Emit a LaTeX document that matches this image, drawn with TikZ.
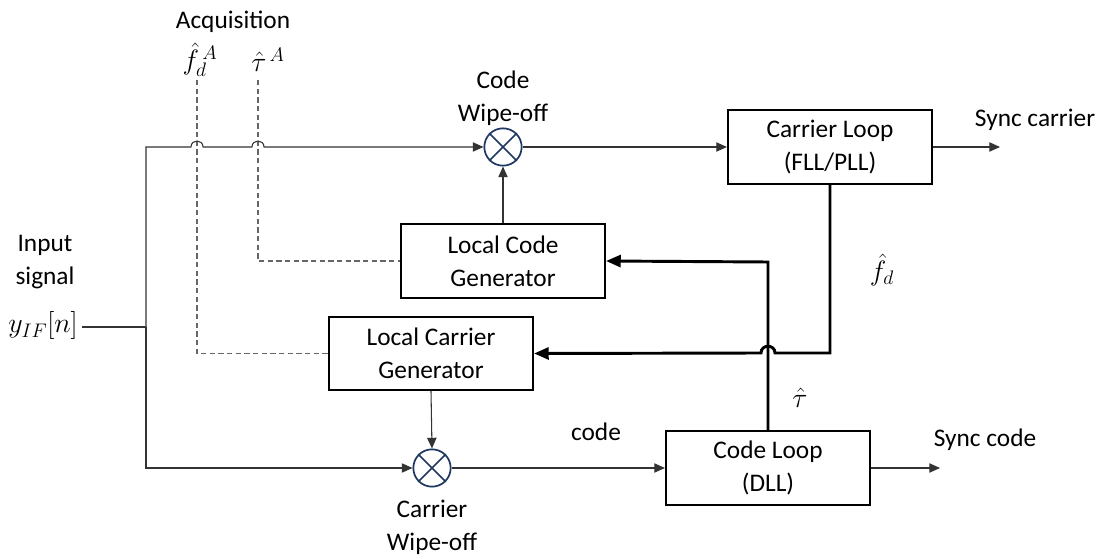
\RequirePackage{fix-cm}
\documentclass[tikz,border=0pt]{standalone}
\usepackage{fontspec}
\setmainfont{Carlito}
\usetikzlibrary{arrows.meta,calc}
\definecolor{navy}{HTML}{203864}
\begin{document}
\begin{tikzpicture}[x=0.75pt,y=-0.75pt,
  every node/.style={font=\fontsize{19}{25}\selectfont},
  box/.style={draw=black, line width=1.6pt, minimum width=153pt, minimum height=55pt, align=center, inner sep=0pt},
  mult/.style={circle, draw=navy, line width=1.3pt, minimum size=28pt, inner sep=0pt},
  sig/.style={draw=black!80, line width=0.8pt},
  sigarrow/.style={sig, -{Triangle[length=8pt,width=7pt]}},
  fb/.style={draw=black, line width=2.2pt, -{Triangle[length=11pt,width=9pt]}},
  acq/.style={draw=black!60, line width=0.8pt, dash pattern=on 4pt off 2.5pt},
  lbl/.style={align=center, inner sep=0pt},
  mlbl/.style={inner sep=0pt, font=\fontsize{21}{25}\selectfont}]
\useasboundingbox (0,0) rectangle (1099,559);

% blocks
\node[box] (cl) at (830,147) {Carrier Loop\\(FLL/PLL)};
\node[box] (lcg) at (503,261) {Local Code\\Generator};
\node[box] (lcar) at (431,353.5) {Local Carrier\\Generator};
\node[box] (dll) at (768,468) {Code Loop\\(DLL)};

% multipliers
\node[mult] (cw) at (503,147) {};
\node[mult] (carw) at (432,468) {};
\foreach \m in {cw,carw}{
  \draw[navy, line width=1.3pt] (\m.45) -- (\m.225);
  \draw[navy, line width=1.3pt] (\m.135) -- (\m.315);
}

% labels
\node[lbl] (acq) at (233,22) {Acquisition};
\node[mlbl] (fdA) at (200,60) {$\hat{f}_d^{\,A}$};
\node[mlbl] (tauA) at (268,60) {$\hat{\tau}^{\,A}$};
\node[lbl] (cwl) at (503,98) {Code\\Wipe-off};
\node[lbl] (carwl) at (432,527) {Carrier\\Wipe-off};
\node[lbl] (inl) at (45,262) {Input\\signal};
\node[mlbl] (yin) at (43,326) {$y_{IF}[n]$};
\node[mlbl] (fdl) at (882,270) {$\hat{f}_d$};
\node[mlbl] (taul) at (800,398) {$\hat{\tau}$};
\node[lbl] (codel) at (596,432) {code};
\node[lbl] (scar) at (1035,120) {Sync carrier};
\node[lbl] (scode) at (985,440) {Sync code};

% coordinates
\coordinate (split) at (146,327);
\coordinate (tl) at (146,147);
\coordinate (h1) at (197,147);
\coordinate (h2) at (258,147);
\coordinate (fdtop) at (197,80);
\coordinate (tautop) at (258,80);
\coordinate (fdcorner) at (830,353);
\coordinate (h3) at (768,353);
\coordinate (taucorner) at (768,262);
\coordinate (scarend) at (1000,147);
\coordinate (scodeend) at (940,468);

% acquisition dashed lines
\draw[acq] (fdtop) |- (lcar.west);
\draw[acq] (tautop) |- (lcg.west);

% input signal
\draw[sig] ($(yin.east)+(4,1)$) -- (split);
\draw[sigarrow] (split) -- (tl) -- ($(h1)+(-6,0)$)
  .. controls +(0,-8) and +(0,-8) .. ($(h1)+(6,0)$)
  -- ($(h2)+(-6,0)$)
  .. controls +(0,-8) and +(0,-8) .. ($(h2)+(6,0)$)
  -- (cw.west);
\draw[sigarrow] (split) |- (carw.west);

% forward path
\draw[sigarrow] (cw.east) -- (cl.west);
\draw[sigarrow] (lcg.north) -- (cw.south);
\draw[sigarrow] (lcar.south) -- (carw.north);
\draw[sigarrow] (carw.east) -- (dll.west);
\draw[sigarrow] (cl.east) -- (scarend);
\draw[sigarrow] (dll.east) -- (scodeend);

% feedback
\draw[fb] (dll.north) -- (taucorner) -- (lcg.east);
\draw[fb] (cl.south) -- (fdcorner) -- ($(h3)+(7,0)$)
  .. controls +(0,-9) and +(0,-9) .. ($(h3)+(-7,0)$) -- (lcar.east);
\end{tikzpicture}
\end{document}
